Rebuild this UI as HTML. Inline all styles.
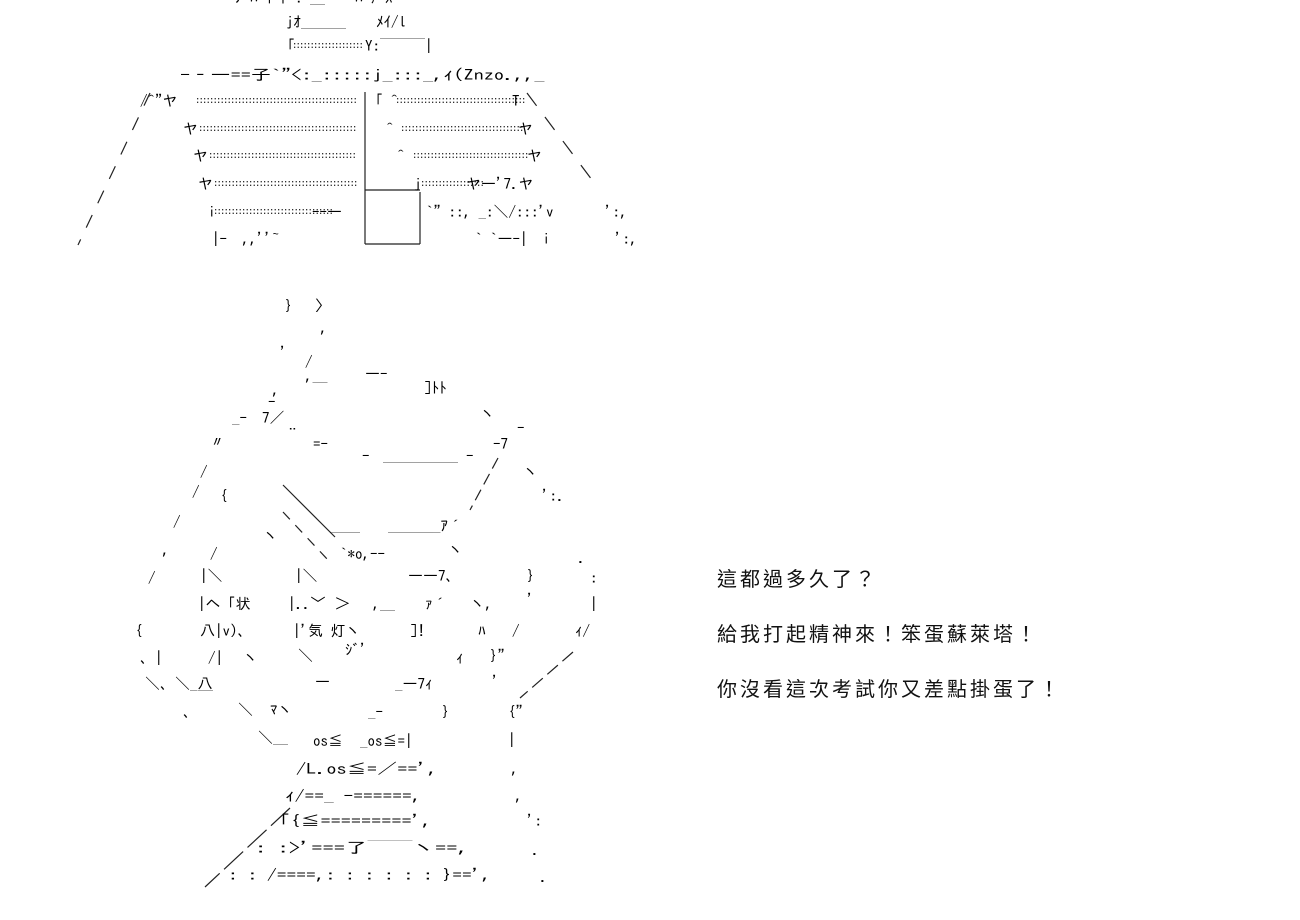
<!DOCTYPE html>
<html><head><meta charset="utf-8"><style>
body{margin:0;width:1300px;height:920px;background:#fff;overflow:hidden;position:relative;color:#000}
.t{position:absolute;white-space:pre;font:15px/20px "IPAGothic","Noto Sans CJK JP",monospace}
.d{position:absolute;white-space:pre;font:9px/9px "Liberation Mono",monospace;letter-spacing:-1.9px;color:#000}
.s{transform-origin:0 0}
.r{position:absolute;left:717px;white-space:pre;font:20px/24px "Noto Sans CJK TC","WenQuanYi Zen Hei",sans-serif;letter-spacing:3px;color:#111}
svg{position:absolute;left:0;top:0}
</style></head><body>
<svg width="1300" height="920" stroke="#222" stroke-width="1.2" fill="none">
<line x1="150" y1="93" x2="78" y2="245" stroke-dasharray="14,13"/>
<line x1="527" y1="93" x2="598" y2="188" stroke-dasharray="16,14"/>
<line x1="365" y1="92" x2="365" y2="244"/>
<line x1="420" y1="192" x2="420" y2="244"/>
<line x1="365" y1="190" x2="420" y2="190"/>
<line x1="365" y1="244" x2="420" y2="244"/>
<line x1="283" y1="485" x2="335" y2="537"/>
<line x1="283" y1="512" x2="328" y2="560" stroke-dasharray="10,8"/>
<line x1="498" y1="458" x2="470" y2="510" stroke-dasharray="12,6"/>
<line x1="573" y1="652" x2="520" y2="698" stroke-dasharray="14,6"/>
<line x1="290" y1="808" x2="205" y2="887" stroke-dasharray="26,6"/>
</svg>
<!-- top section -->
<div class="t" style="left:235px;top:-12px">ﾉ ﾊ ｲ ﾄ : ＿　　ﾊ ｧ ｽ</div>
<div class="t" style="left:286px;top:12px">jｵ＿＿＿　　ﾒｲ/l</div>
<div class="t" style="left:280px;top:36px">「</div><div class="d" style="left:292px;top:42px">::::::::::::::::::::</div>
<div class="t" style="left:365px;top:36px">Y:￣￣￣|</div>
<div class="t s" style="left:180px;top:65px;transform:scaleX(1.35)">-‐―==子`"&lt;:_:::::j_:::_,ｨ(Znzo.,,_</div>
<div class="t" style="left:140px;top:91px">/^"ヤ</div><div class="d" style="left:195px;top:97px">::::::::::::::::::::::::::::::::::::::::::::::</div>
<div class="t" style="left:368px;top:91px">「 ^</div><div class="d" style="left:395px;top:97px">:::::::::::::::::::::::::::::::::::::</div><div class="t" style="left:512px;top:91px">T</div>
<div class="t" style="left:183px;top:119px">ヤ</div><div class="d" style="left:198px;top:125px">:::::::::::::::::::::::::::::::::::::::::::::</div>
<div class="t" style="left:386px;top:119px">^</div><div class="d" style="left:400px;top:125px">:::::::::::::::::::::::::::::::::::</div><div class="t" style="left:518px;top:119px">ヤ</div>
<div class="t" style="left:193px;top:146px">ヤ</div><div class="d" style="left:208px;top:152px">::::::::::::::::::::::::::::::::::::::::::</div>
<div class="t" style="left:397px;top:146px">^</div><div class="d" style="left:412px;top:152px">:::::::::::::::::::::::::::::::::</div><div class="t" style="left:527px;top:146px">ヤ</div>
<div class="t" style="left:198px;top:174px">ヤ</div><div class="d" style="left:213px;top:180px">:::::::::::::::::::::::::::::::::::::::::</div>
<div class="t" style="left:414px;top:174px">j</div><div class="d" style="left:420px;top:180px">::::::::::::::::::</div><div class="t" style="left:466px;top:174px">ヤ―'7.ヤ</div>
<div class="t" style="left:208px;top:202px">i</div><div class="d" style="left:213px;top:208px">::::::::::::::::::::::::::::::::::</div>
<div class="t" style="left:312px;top:202px">--―</div><div class="t" style="left:426px;top:202px">`" ::, _:＼/:::'v</div><div class="t" style="left:605px;top:202px">':,</div>
<div class="t" style="left:212px;top:229px">|-　,,''~</div><div class="t" style="left:475px;top:229px">` `―-|　i</div><div class="t" style="left:615px;top:229px">':,</div>
<!-- bottom section -->
<div class="t" style="left:285px;top:296px">}　 〉</div>
<div class="t" style="left:320px;top:318px">,</div>
<div class="t" style="left:280px;top:343px">'</div><div class="t" style="left:305px;top:352px">/</div>
<div class="t" style="left:305px;top:366px">,＿</div><div class="t" style="left:365px;top:364px">―-</div>
<div class="t" style="left:424px;top:378px">]ﾄﾄ</div>
<div class="t" style="left:272px;top:380px">,</div><div class="t" style="left:268px;top:392px">-</div>
<div class="t" style="left:232px;top:408px">_-　7／</div>
<div class="t" style="left:480px;top:404px">ヽ</div><div class="t" style="left:517px;top:418px">-</div>
<div class="t" style="left:210px;top:432px">〃</div><div class="t" style="left:285px;top:424px">¨</div><div class="t" style="left:313px;top:434px">=-</div>
<div class="t" style="left:362px;top:446px">-</div><div class="t" style="left:383px;top:446px">＿＿＿＿＿</div><div class="t" style="left:466px;top:446px">-</div><div class="t" style="left:493px;top:434px">-7</div>
<div class="t" style="left:200px;top:462px">/</div><div class="t" style="left:523px;top:462px">ヽ</div>
<div class="t" style="left:192px;top:482px">/</div><div class="t" style="left:220px;top:486px">{</div><div class="t" style="left:542px;top:486px">':.</div>
<div class="t" style="left:173px;top:512px">/</div><div class="t" style="left:330px;top:516px">＿＿</div><div class="t" style="left:388px;top:516px">＿＿＿_ｱ´</div>
<div class="t" style="left:162px;top:540px">,</div><div class="t" style="left:210px;top:544px">/</div><div class="t" style="left:263px;top:526px">ヽ</div><div class="t" style="left:340px;top:544px">`*o,--</div><div class="t" style="left:448px;top:540px">ヽ</div><div class="t" style="left:578px;top:548px">.</div>
<div class="t" style="left:148px;top:568px">/</div><div class="t" style="left:200px;top:566px">|＼</div><div class="t" style="left:295px;top:566px">|＼</div><div class="t" style="left:408px;top:566px">――7、</div><div class="t" style="left:527px;top:566px">}</div><div class="t" style="left:590px;top:568px">:</div>
<div class="t" style="left:198px;top:594px">|ヘ「状</div><div class="t" style="left:288px;top:594px">|..﹀</div><div class="t" style="left:335px;top:594px">＞　 ,＿</div><div class="t" style="left:425px;top:594px">ｧ´</div><div class="t" style="left:470px;top:594px">ヽ,</div><div class="t" style="left:527px;top:590px">'</div><div class="t" style="left:590px;top:594px">|</div>
<div class="t" style="left:135px;top:621px">{</div><div class="t" style="left:200px;top:621px">八|v)、</div><div class="t" style="left:293px;top:621px">|'気 灯ヽ</div><div class="t" style="left:410px;top:621px">]!</div><div class="t" style="left:478px;top:621px">ﾊ</div><div class="t" style="left:512px;top:621px">/</div><div class="t" style="left:575px;top:621px">ｨ/</div>
<div class="t" style="left:140px;top:648px">、|</div><div class="t" style="left:208px;top:648px">/|</div><div class="t" style="left:243px;top:648px">ヽ</div><div class="t" style="left:298px;top:646px">＼</div><div class="t" style="left:345px;top:640px">ｼﾞ'</div><div class="t" style="left:456px;top:648px">ｨ</div><div class="t" style="left:490px;top:646px">}"</div>
<div class="t" style="left:145px;top:674px">＼、＼_八</div><div class="t" style="left:315px;top:672px">―</div><div class="t" style="left:395px;top:674px">_―7ｨ</div><div class="t" style="left:492px;top:672px">'</div>
<div class="t" style="left:183px;top:702px">、</div><div class="t" style="left:198px;top:688px">￣</div><div class="t" style="left:238px;top:700px">＼</div><div class="t" style="left:270px;top:700px">ﾏヽ</div><div class="t" style="left:368px;top:702px">_-</div><div class="t" style="left:442px;top:702px">}</div><div class="t" style="left:508px;top:702px">{"</div>
<div class="t" style="left:258px;top:728px">＼＿</div><div class="t" style="left:313px;top:731px">os≦</div><div class="t" style="left:360px;top:731px">_os≦=|</div><div class="t" style="left:508px;top:730px">|</div>
<div class="t s" style="left:296px;top:759px;transform:scaleX(1.35)">/L.os≦=／==',</div><div class="t" style="left:511px;top:759px">,</div>
<div class="t s" style="left:285px;top:786px;transform:scaleX(1.3)">ｨ/==_ -======,</div><div class="t" style="left:515px;top:786px">,</div>
<div class="t s" style="left:280px;top:811px;transform:scaleX(1.35)">｢{≦=========',</div><div class="t" style="left:527px;top:811px">':</div>
<div class="t s" style="left:255px;top:838px;transform:scaleX(1.5)">: :&gt;'===了￣￣ヽ==,</div><div class="t" style="left:532px;top:840px">.</div>
<div class="t s" style="left:228px;top:865px;transform:scaleX(1.3)">: : /====,: : : : : : }==',</div><div class="t" style="left:540px;top:867px">.</div>
<!-- right text -->
<div class="r" style="top:566px">這都過多久了？</div>
<div class="r" style="top:621px">給我打起精神來！笨蛋蘇萊塔！</div>
<div class="r" style="top:676px">你沒看這次考試你又差點掛蛋了！</div>
</body></html>
